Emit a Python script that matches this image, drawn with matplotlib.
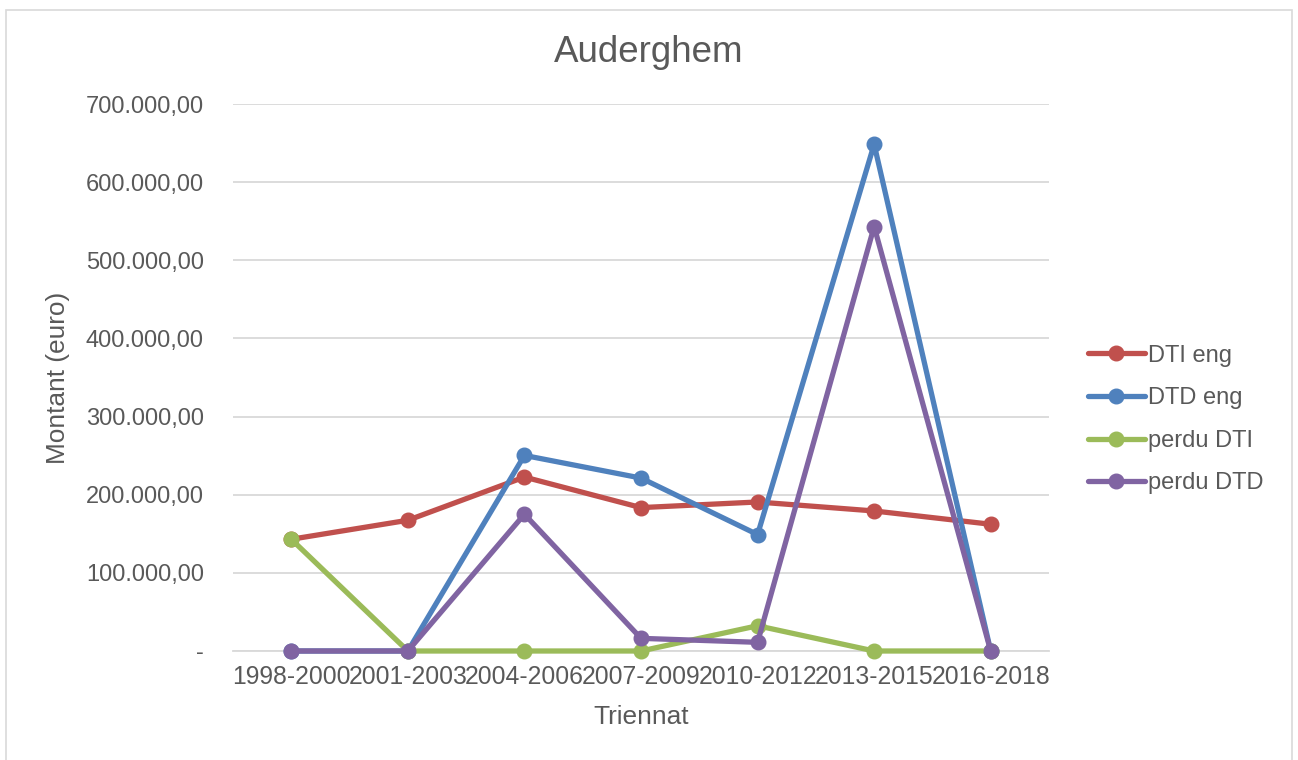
#!/usr/bin/env python3

import matplotlib
matplotlib.use("Agg")
import matplotlib.pyplot as plt
from matplotlib.patches import Rectangle
from matplotlib.ticker import FuncFormatter

# Data
trienniums = ["1998-2000", "2001-2003", "2004-2006", "2007-2009",
              "2010-2012", "2013-2015", "2016-2018"]
dti_eng = [143000, 167300, 222600, 183500, 190700, 179200, 162200]
dtd_eng = [0, 0, 250300, 221300, 149000, 648400, 0]
perdu_dti = [143000, 0, 0, 0, 32300, 0, 0]
perdu_dtd = [0, 0, 175000, 16200, 11100, 543200, 0]

series_names = ["DTI eng", "DTD eng", "perdu DTI", "perdu DTD"]
series_colors = ["#C0504D", "#4F81BD", "#9BBB59", "#8064A2"]

TEXT = "#595959"
GRID = "#D9D9D9"

plt.rcParams["font.family"] = ["Liberation Sans", "DejaVu Sans"]


def euro_fmt(v, pos):
    if abs(v) < 0.5:
        return "-"
    s = f"{v:,.2f}"
    return s.replace(",", " ").replace(".", ",").replace(" ", ".")


def main():
    W, H = 1298, 760
    fig = plt.figure(figsize=(W / 100, H / 100), dpi=100)

    # light frame around the chart area
    fig.patches.append(Rectangle((6 / W, -0.05), 1286 / W, (750 + 38) / H,
                                 transform=fig.transFigure, fill=False,
                                 edgecolor=GRID, linewidth=1.2))

    ax = fig.add_axes([233 / W, 1 - 651 / H, 816 / W, 547 / H])

    x = list(range(len(trienniums)))
    for vals, name, col in zip([dti_eng, dtd_eng, perdu_dti, perdu_dtd],
                               series_names, series_colors):
        ax.plot(x, vals, color=col, linewidth=3.8, marker="o",
                markersize=10.5, label=name, solid_capstyle="round",
                solid_joinstyle="round", clip_on=False, zorder=3)

    ax.set_xlim(-0.5, len(trienniums) - 0.5)
    ax.set_ylim(0, 700000)
    ax.set_yticks(range(0, 700001, 100000))
    ax.yaxis.set_major_formatter(FuncFormatter(euro_fmt))
    ax.set_xticks(x)
    ax.set_xticklabels(trienniums)

    ax.grid(axis="y", color=GRID, linewidth=1.3)
    ax.set_axisbelow(True)
    for side in ["top", "right", "left"]:
        ax.spines[side].set_visible(False)
    ax.spines["bottom"].set_color(GRID)
    ax.spines["bottom"].set_linewidth(1.3)

    ax.tick_params(axis="both", length=0, labelsize=17, labelcolor=TEXT)
    ax.tick_params(axis="x", labelsize=17.8, pad=10)
    ax.tick_params(axis="y", pad=21)

    fig.text(0.5, 1 - 52 / H, "Auderghem", ha="center", va="center",
             fontsize=26.5, color=TEXT)
    fig.text(58 / W, 1 - 377.5 / H, "Montant (euro)", ha="center",
             va="center", rotation=90, fontsize=18.9, color=TEXT)
    fig.text(641 / W, 1 - 717 / H, "Triennat", ha="center", va="center",
             fontsize=18.9, color=TEXT)

    leg = ax.legend(loc="center left", bbox_to_anchor=(1088 / W, 1 - 419.5 / H),
                    bbox_transform=fig.transFigure, frameon=False,
                    fontsize=17, handlelength=2.4, handletextpad=0.15,
                    labelspacing=0.87, borderpad=0, borderaxespad=0)
    for t in leg.get_texts():
        t.set_color(TEXT)

    fig.savefig("out.png", dpi=100)


if __name__ == "__main__":
    main()
